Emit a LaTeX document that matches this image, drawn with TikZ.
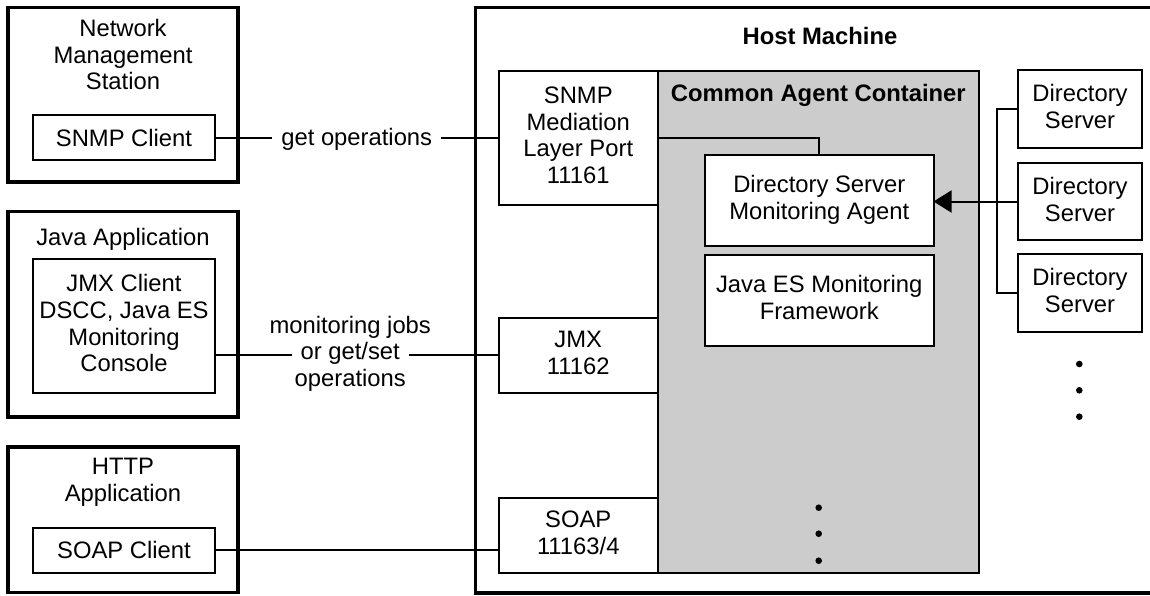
\documentclass[tikz,border=0pt]{standalone}
\usepackage{fontspec}
\setmainfont{Liberation Sans}
\usetikzlibrary{positioning, arrows.meta}
\definecolor{agentgray}{RGB}{204,204,204}
\newcommand\dfont{\fontsize{23.8}{26.7}\selectfont}
\newcommand\lst{\rule[-4.85pt]{0pt}{26.7pt}}

\begin{document}
\begin{tikzpicture}[x = 1pt, y = -1pt, line join = miter,
    nodes = {align = center, font = \dfont, inner sep = 0pt, outer sep = 0pt,
    execute at begin node = \lst, execute at end node = \lst},
    outer/.style = {draw, line width = 3.3pt, minimum width = 230pt},
    box/.style = {draw, fill = white, line width = 2pt},
    client/.style = {box, minimum width = 182pt},
    port/.style = {box, minimum width = 159.5pt},
    agent/.style = {box, minimum width = 228.5pt, minimum height = 91pt},
    dsbox/.style = {box, minimum width = 124pt, minimum height = 77.5pt},
    lbl/.style = {fill = white, inner xsep = 9pt},
    head/.style = {font = \dfont\bfseries},
    conn/.style = {line width = 2pt}]
 \useasboundingbox (0,0) rectangle (1150,595);

 \node[outer, minimum height = 174.3pt] (nms) at (123,94.85) {};
 \node[outer, minimum height = 205.3pt] (javaapp) at (123,314.35) {};
 \node[outer, minimum height = 145.5pt] (httpapp) at (123,519.75) {};
 \node[below = 11.6pt of nms.north] (nmstitle) {Network\\Management\\Station};
 \node[below = 12.4pt of javaapp.north] (javatitle) {Java Application};
 \node[below = 11.6pt of httpapp.north] (httptitle) {HTTP\\Application};

 \node[client, minimum height = 45pt] (snmpclient) at (124,137.5) {SNMP Client};
 \node[client, minimum height = 134pt] (jmxclient) at (124,325.5)
   {JMX Client\\DSCC, Java ES\\Monitoring\\Console};
 \node[client, minimum height = 45pt] (soapclient) at (124,550) {SOAP Client};

 \draw[line width = 3.3pt] (1150,7.7) -| (475.3,593) -- (1150,593);
 \node[head] (hosttitle) at (820,36.3) {Host Machine};

 \node[box, fill = agentgray, minimum width = 320.5pt, minimum height = 502pt] (cac)
   at (818.25,321.5) {};
 \node[head, below = 8.95pt of cac.north] (cactitle) {Common Agent Container};

 \node[port, minimum height = 134.5pt] (snmpport) at (578.25,137.75)
   {SNMP\\Mediation\\Layer Port\\11161};
 \node[port, minimum height = 75pt] (jmxport) at (578.25,355) {JMX\\11162};
 \node[port, minimum height = 74.5pt] (soapport) at (578.25,535.25) {SOAP\\11163/4};

 \node[agent] (dsagent) at (819.25,200) {Directory Server\\Monitoring Agent};
 \node[agent] (esframe) at (819.25,300) {Java ES Monitoring\\Framework};

 \node[dsbox] (ds1) at (1080,108.75) {Directory\\Server};
 \node[dsbox] (ds2) at (1080,201.5) {Directory\\Server};
 \node[dsbox] (ds3) at (1080,292.75) {Directory\\Server};

 \draw[conn] (snmpclient.east) -- node[lbl] (getop) {get operations}
   (snmpclient.east -| snmpport.west);
 \draw[conn] (jmxclient.east |- jmxport) -- node[lbl, pos = 0.477, yshift = 3.5pt] (getset)
   {or get/set} (jmxport.west);
 \node[above = 0pt of getset] (jobs) {monitoring jobs};
 \node[below = 0pt of getset] (ops) {operations};
 \draw[conn] (soapclient.east) -- (soapclient.east -| soapport.west);
 \draw[conn] (snmpport.east) -| (dsagent.north);

 \coordinate (bus) at (997.3,0);
 \draw[conn] (ds1.west) -| (bus |- ds3.west) -- (ds3.west);
 \draw[conn, -{Triangle[length = 18pt, width = 22pt]}] (ds2.west) -- (ds2.west -| dsagent.east);

 \foreach \y in {507.7, 533.7, 560.7} \fill (818.7,\y) circle[radius = 3.3pt];
 \foreach \y in {364, 390.3, 416.7} \fill (1079.3,\y) circle[radius = 3.3pt];
\end{tikzpicture}
\end{document}
